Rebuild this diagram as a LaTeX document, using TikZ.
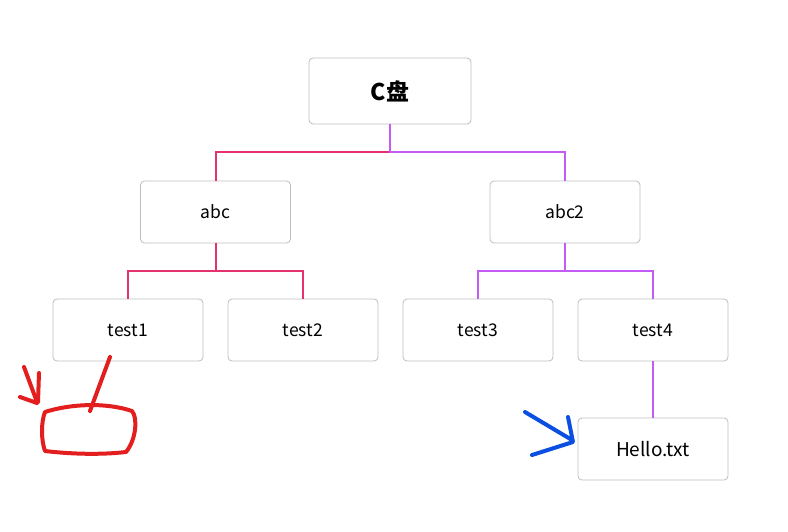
\documentclass[tikz,border=0pt]{standalone}
\usepackage{fontspec}
\setmainfont{Noto Sans CJK SC}
\usepackage{xcolor}
\usetikzlibrary{positioning}

\definecolor{boxgray}{HTML}{BDBDBD}
\definecolor{linkpink}{HTML}{E5326C}
\definecolor{linkpurple}{HTML}{C25CF2}
\definecolor{penred}{HTML}{E21E1E}
\definecolor{penblue}{HTML}{0A4FE0}

\begin{document}
\begin{tikzpicture}[
  x=1pt, y=-1pt,
  folder/.style={draw=boxgray, line width=0.8pt, rectangle, rounded corners=4pt,
    outer sep=0pt, minimum width=150pt, minimum height=62pt,
    font=\fontsize{17.5}{20}\selectfont},
  rootbox/.style={folder, minimum width=162pt, minimum height=66pt,
    font=\fontsize{23}{26}\selectfont\bfseries},
  pink/.style={draw=linkpink, line width=2pt},
  purple/.style={draw=linkpurple, line width=2pt},
  pen/.style={line width=4pt, line cap=round, line join=round},
  node distance=25pt
]
\useasboundingbox (0,0) rectangle (788,532);

\node[rootbox] (cdisk) at (390,91) {C盘};
\node[folder] (abc) at (215.5,212) {abc};
\node[folder] (abctwo) at (565,212) {abc2};
\node[folder] (testone) at (128,330) {test1};
\node[folder, right=of testone] (testtwo) {test2};
\node[folder, right=of testtwo] (testthree) {test3};
\node[folder, right=of testthree] (testfour) {test4};
\node[folder, below=57pt of testfour, font=\fontsize{19}{22}\selectfont] (hello) {Hello.txt};

% branches
\draw[pink] (cdisk.south) -- ++(0,28) -| (abc.north);
\draw[purple] (cdisk.south) -- ++(0,28) -| (abctwo.north);
\draw[pink] (abc.south) -- ++(0,28) -| (testone.north);
\draw[pink] (abc.south) -- ++(0,28) -| (testtwo.north);
\draw[purple] (abctwo.south) -- ++(0,28) -| (testthree.north);
\draw[purple] (abctwo.south) -- ++(0,28) -| (testfour.north);
\draw[purple] (testfour.south) -- (hello.north);

% hand-drawn marks
\draw[pen, penred] (24,367) -- (37,402) (39,373) -- (38,402) (20,397) -- (37,403);
\draw[pen, penred] (110,357) -- (90,411);
\draw[pen, penred] (45,412) .. controls (70,404) and (105,402) .. (132,411)
  .. controls (138,418) and (136,440) .. (126,452)
  .. controls (100,455) and (70,454) .. (45,451)
  .. controls (41,440) and (41,422) .. (45,412) -- cycle;
\draw[pen, penblue] (525,412) -- (572,440) (568,417) -- (573,442) -- (532,455);
\end{tikzpicture}
\end{document}
